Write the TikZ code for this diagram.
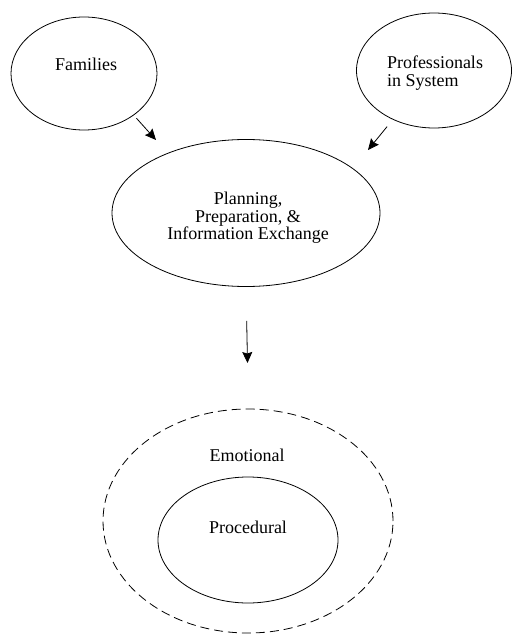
\documentclass[tikz,border=0pt]{standalone}
\usepackage{fontspec}
\setmainfont{Liberation Serif}
\usetikzlibrary{shapes.geometric, arrows.meta}
\tikzset{>={Stealth[length=11pt,width=10pt,inset=1.5pt]}}
\tikzset{oval/.style={draw, ellipse, inner sep=0pt},
    txt/.style={inner sep=0pt, align=center, font=\fontsize{18}{17.5}\selectfont}}

\begin{document}
\begin{tikzpicture}[x=1pt, y=-1pt, line width=0.8pt]
    \useasboundingbox (0,0) rectangle (511,636);
    % the two sources
    \node[oval, minimum width=146pt, minimum height=113pt] (fam) at (84,73.5) {};
    \node[txt] (famText) at (86,64) {Families};
    \node[oval, minimum width=155pt, minimum height=115pt] (prof) at (434,70.5) {};
    \node[txt, align=left] (profText) at (435,73) {Professionals\\in System};
    % planning
    \node[oval, minimum width=268pt, minimum height=147pt] (plan) at (246,213) {};
    \node[txt] (planText) at (248,218) {Planning,\\Preparation, \&\\Information Exchange};
    % outcome
    \node[oval, dashed, dash pattern=on 9pt off 5pt, minimum width=290pt, minimum height=224pt] (emo) at (248,521) {};
    \node[txt] (emoText) at (247,455) {Emotional};
    \node[oval, minimum width=180pt, minimum height=126pt] (proc) at (248,540) {};
    \node[txt] (procText) at (248,527) {Procedural};
    \coordinate (famTip) at (156,140);
    \coordinate (profTip) at (368,150);
    \coordinate (planTip) at (247.5,363);
    \draw[->, shorten <=4pt] (fam.-40) -- (famTip);
    \draw[->, shorten <=9pt] (prof.-130) -- (profTip);
    \draw[->, shorten <=34pt] (plan.south) -- (planTip);
\end{tikzpicture}
\end{document}
